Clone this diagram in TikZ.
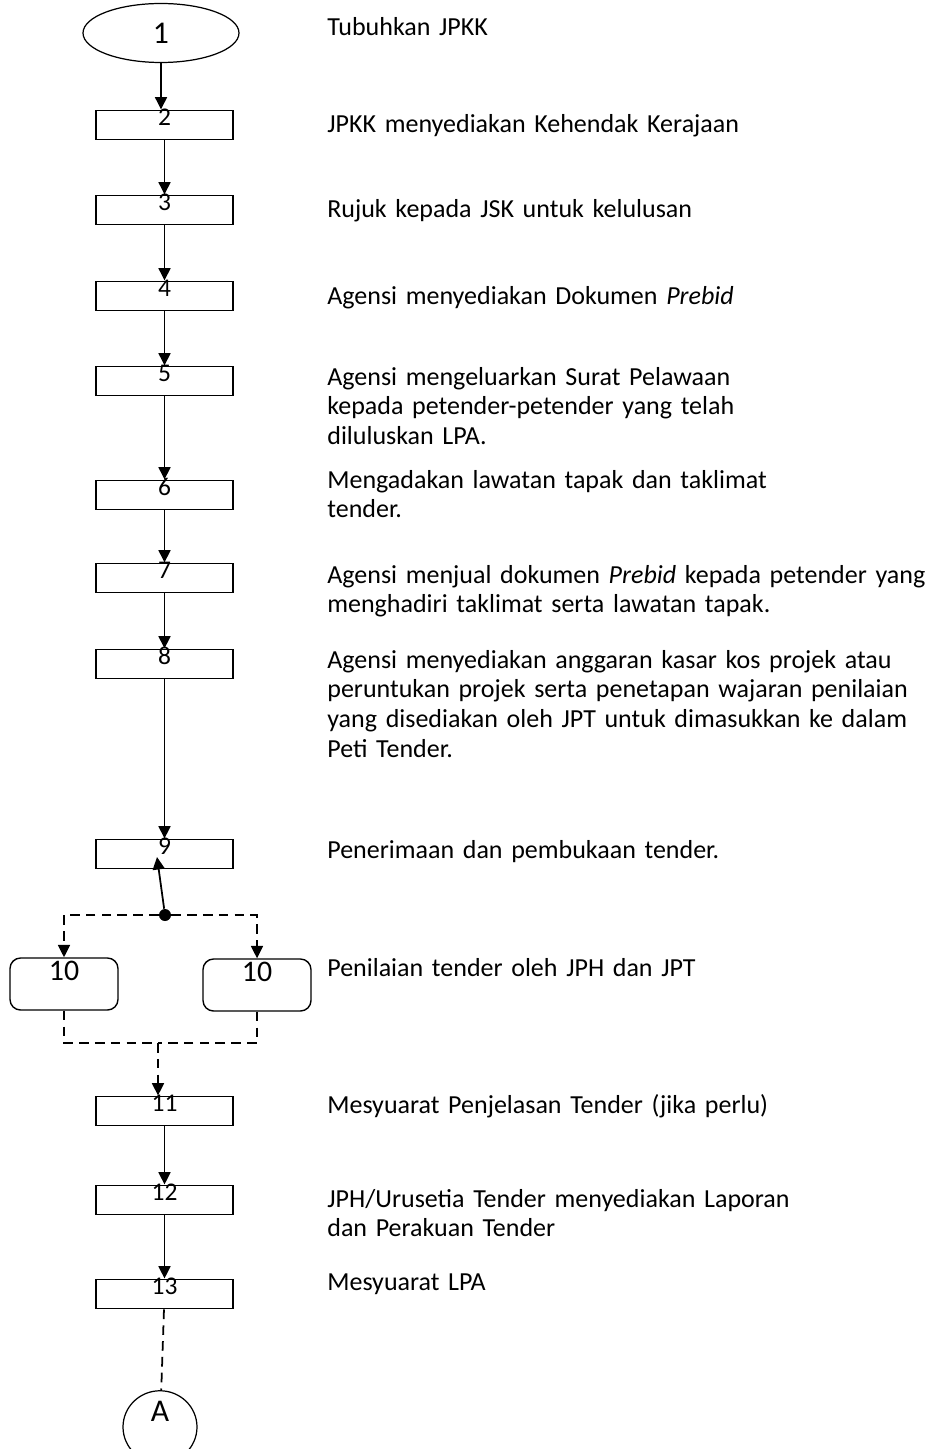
\documentclass[tikz,border=0pt]{standalone}
\usepackage{fontspec}
\setmainfont{Carlito}
\usetikzlibrary{shapes.geometric}
\usetikzlibrary{positioning}
\usetikzlibrary{arrows.meta,calc}

\begin{document}
\begin{tikzpicture} [
       x=0.02cm, y=-0.02cm,
       startend/.style={ellipse, draw, line width=0.7pt, inner sep=0pt,
               minimum width=3.12cm, minimum height=1.18cm,
               font=\fontsize{18}{18}\selectfont},
       stepbox/.style={rectangle, draw, line width=1.1pt, inner sep=0pt,
               minimum width=2.74cm, minimum height=0.58cm,
               text height=0.30cm, text depth=0.28cm,
               font=\fontsize{14.5}{14.5}\selectfont},
       subbox/.style={rectangle, rounded corners=6pt, draw, line width=0.8pt,
               inner sep=0pt, minimum width=2.16cm, minimum height=1.04cm,
               text height=0.44cm, text depth=0.60cm,
               font=\fontsize{17}{17}\selectfont},
       texte/.style={anchor=base west, text width=13.5cm, align=left,
               inner sep=0pt, font=\fontsize{14.8}{17}\selectfont},
       line/.style     = { draw, line width=1pt, -{Triangle[length=0.25cm,width=0.24cm]} },
       dashline/.style = { draw, line width=1pt, dash pattern=on 5.5pt off 3.5pt },
       ]
       \useasboundingbox (0,0) rectangle (933,1449);
       % the flow on the left
       \node (start) [startend] at (161,33) {1};
       \node (b2) [stepbox] at (164.5,125) {2};
       \node (b3) [stepbox] at (164.5,210) {3};
       \node (b4) [stepbox] at (164.5,296) {4};
       \node (b5) [stepbox] at (164.5,381) {5};
       \node (b6) [stepbox] at (164.5,495) {6};
       \node (b7) [stepbox] at (164.5,578) {7};
       \node (b8) [stepbox] at (164.5,664) {8};
       \node (b9) [stepbox] at (164.5,854) {9};
       \node (dot) [circle, fill, inner sep=0pt, minimum size=0.24cm] at (165,915) {};
       \node (b10a) [subbox] at (64,984) {10};
       \node (b10b) [subbox] at (257,985) {10};
       \node (b11) [stepbox] at (164.5,1111) {11};
       \node (b12) [stepbox] at (164.5,1200) {12};
       \node (b13) [stepbox] at (164.5,1294) {13};
       \node (endA) [ellipse, draw, line width=0.7pt, inner sep=0pt,
               minimum width=1.48cm, minimum height=1.4cm, text depth=0.62cm,
               font=\fontsize{18}{18}\selectfont] at (160,1427) {A};
       \coordinate (tip9) at (157,857);
       \coordinate (join) at (158,1043);

       % the texts on the right
       \node (t1) [texte] at (327,36) {Tubuhkan JPKK};
       \node (t2) [texte] at (327,133) {JPKK menyediakan Kehendak Kerajaan};
       \node (t3) [texte] at (327,218) {Rujuk kepada JSK untuk kelulusan};
       \node (t4) [texte] at (327,304) {Agensi menyediakan Dokumen \textit{Prebid}};
       \node (t5) [texte] at (327,385) {Agensi mengeluarkan Surat Pelawaan\\kepada petender-petender yang telah\\diluluskan LPA.};
       \node (t6) [texte] at (327,488) {Mengadakan lawatan tapak dan taklimat\\tender.};
       \node (t7) [texte] at (327,583) {Agensi menjual dokumen \textit{Prebid} kepada petender yang\\menghadiri taklimat serta lawatan tapak.};
       \node (t8) [texte] at (327,668) {Agensi menyediakan anggaran kasar kos projek atau\\peruntukan projek serta penetapan wajaran penilaian\\yang disediakan oleh JPT untuk dimasukkan ke dalam\\Peti Tender.};
       \node (t9) [texte] at (327,858) {Penerimaan dan pembukaan tender.};
       \node (t10) [texte] at (327,976) {Penilaian tender oleh JPH dan JPT};
       \node (t11) [texte] at (327,1113) {Mesyuarat Penjelasan Tender (jika perlu)};
       \node (t12) [texte] at (327,1207) {JPH/Urusetia Tender menyediakan Laporan\\dan Perakuan Tender};
       \node (t13) [texte] at (327,1290) {Mesyuarat LPA};

       \begin{scope}[every path/.style=line]
        \path (start) -- (start.south |- b2.north);
        \path (b2) -- (b3);
        \path (b3) -- (b4);
        \path (b4) -- (b5);
        \path (b5) -- (b6);
        \path (b6) -- (b7);
        \path (b7) -- (b8);
        \path (b8) -- (b9);
        \path (dot) -- (tip9);
        \path (b11) -- (b12);
        \path (b12) -- (b13);
       \end{scope}
       \path [dashline, line] (dot) -| (b10a);
       \path [dashline, line] (dot) -| (b10b);
       \path [dashline] (b10a) |- (join);
       \path [dashline] (b10b) |- (join);
       \path [dashline, line] (join) -- (join |- b11.north);
       \path [dashline] (b13) -- (endA);
\end{tikzpicture}
\end{document}
